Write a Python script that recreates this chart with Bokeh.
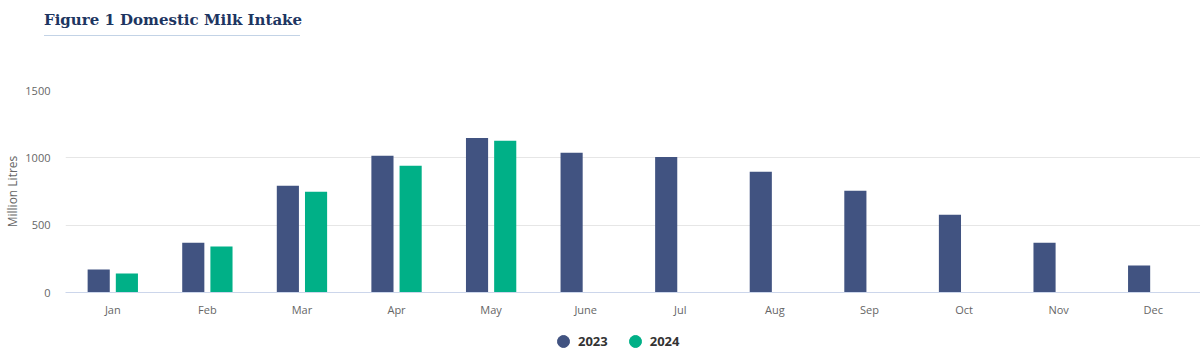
from bokeh.plotting import figure
from bokeh.layouts import column
from bokeh.models import (FactorRange, Range1d, FixedTicker, Legend, LegendItem,
                          ColumnDataSource, Div)
from bokeh.transform import dodge
from bokeh.embed import file_html
from bokeh.resources import INLINE

months = ["Jan", "Feb", "Mar", "Apr", "May", "June", "Jul", "Aug", "Sep", "Oct", "Nov", "Dec"]
intake_2023 = [170, 370, 793, 1015, 1148, 1037, 1007, 896, 756, 578, 370, 200]
months_2024 = ["Jan", "Feb", "Mar", "Apr", "May"]
intake_2024 = [141, 341, 748, 941, 1126]
y_ticks = [0, 500, 1000, 1500]
title_text = "Figure 1 Domestic Milk Intake"
series_names = ["2023", "2024"]

C23 = "#415381"
C24 = "#00b087"
FONT = "Open Sans"

# ---- title strip ----
top = Div(text=(
    '<div style="position:relative;width:1200px;height:50px;">'
    '<div style="position:absolute;left:44px;top:9px;width:256px;'
    "font-family:'DejaVu Serif';font-weight:bold;font-size:15px;line-height:22px;"
    'color:#1d3561;white-space:nowrap;padding-bottom:4px;'
    'border-bottom:1.5px solid #c3d3e6;">' + title_text + '</div></div>'),
    width=1200, height=50, margin=0)

# ---- main chart ----
p = figure(width=1200, height=270, x_range=FactorRange(*months, range_padding=0),
           y_range=Range1d(0, 1500), output_backend="svg", toolbar_location=None,
           min_border_left=65, min_border_right=0, min_border_top=40, min_border_bottom=28)
p.outline_line_color = None

s23 = ColumnDataSource(dict(m=months, v=intake_2023))
s24 = ColumnDataSource(dict(m=months_2024, v=intake_2024))
p.vbar(x=dodge("m", -0.149, range=p.x_range), top="v", width=0.234, source=s23,
       color=C23, line_color=None)
p.vbar(x=dodge("m", 0.149, range=p.x_range), top="v", width=0.234, source=s24,
       color=C24, line_color=None)

p.yaxis.ticker = FixedTicker(ticks=y_ticks)
p.yaxis.axis_line_color = None
p.yaxis.major_tick_line_color = None
p.yaxis.minor_tick_line_color = None
p.yaxis.major_tick_out = 0
p.yaxis.minor_tick_out = 0
p.yaxis.major_label_text_color = "#666666"
p.yaxis.major_label_text_font = FONT
p.yaxis.major_label_text_font_size = "11px"
p.yaxis.major_label_standoff = 15
p.yaxis.axis_label = "Million Litres"
p.yaxis.axis_label_text_font = FONT
p.yaxis.axis_label_text_font_style = "normal"
p.yaxis.axis_label_text_font_size = "12px"
p.yaxis.axis_label_text_color = "#666666"
p.yaxis.axis_label_standoff = 1

p.xaxis.axis_line_color = "#ccd6eb"
p.xaxis.major_tick_line_color = None
p.xaxis.minor_tick_line_color = None
p.xaxis.major_tick_out = 0
p.xaxis.minor_tick_out = 0
p.xaxis.major_label_text_color = "#666666"
p.xaxis.major_label_text_font = FONT
p.xaxis.major_label_text_font_size = "11px"
p.xaxis.major_label_standoff = 9

p.xgrid.grid_line_color = None
p.ygrid.grid_line_color = "#e6e6e6"
p.ygrid.ticker = FixedTicker(ticks=y_ticks)

# ---- legend strip ----
bot = figure(width=1200, height=39, x_range=Range1d(0, 1), y_range=Range1d(0, 1),
             x_axis_location=None, y_axis_location=None, output_backend="svg",
             toolbar_location=None, min_border=0)
bot.outline_line_color = None
bot.xgrid.grid_line_color = None
bot.ygrid.grid_line_color = None
nan = float("nan")
r23 = bot.scatter(x=[nan], y=[nan], marker="circle", color=C23)
r24 = bot.scatter(x=[nan], y=[nan], marker="circle", color=C24)
legend = Legend(items=[LegendItem(label=series_names[0], renderers=[r23]),
                       LegendItem(label=series_names[1], renderers=[r24])],
                orientation="horizontal", location=(483, 3),
                glyph_width=30, glyph_height=30, label_standoff=-2, spacing=12,
                label_text_font=FONT, label_text_font_style="bold",
                label_text_font_size="13px", label_text_color="#333333",
                border_line_color=None, background_fill_alpha=0, padding=0, margin=0)
bot.add_layout(legend)

layout = column(top, p, bot, spacing=0)
open("out.html", "w").write(file_html(layout, INLINE))
